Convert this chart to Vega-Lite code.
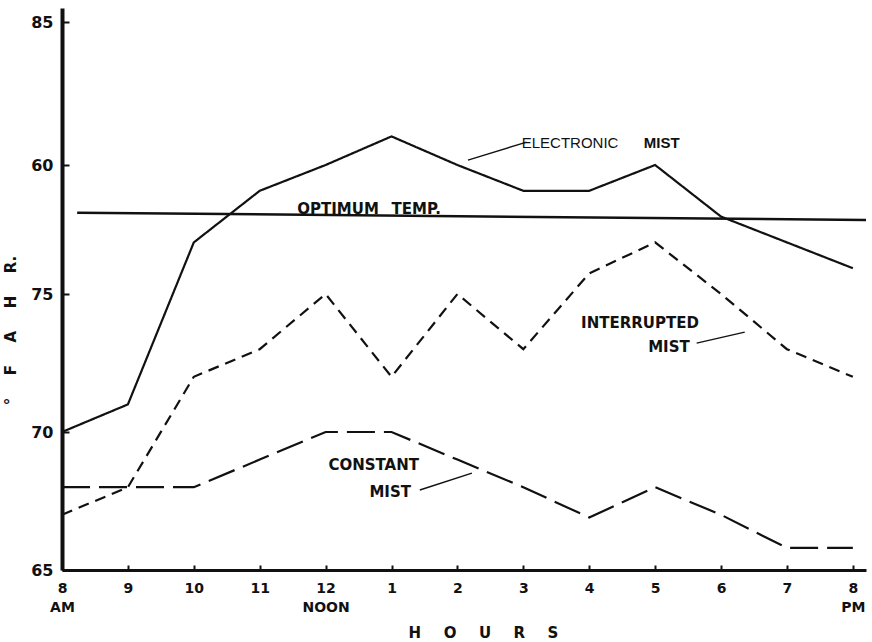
{
  "$schema": "https://vega.github.io/schema/vega-lite/v6.json",
  "width": 804,
  "height": 562,
  "autosize": {"type": "none"},
  "padding": {"left": 62, "top": 8, "right": 6, "bottom": 72},
  "background": "white",
  "config": {"view": {"stroke": null}, "axis": {"grid": false}},
  "datasets": {
    "readings": [
      {"series": "Electronic mist", "hour": 8, "temp": 70},
      {"series": "Electronic mist", "hour": 9, "temp": 71},
      {"series": "Electronic mist", "hour": 10, "temp": 77},
      {"series": "Electronic mist", "hour": 11, "temp": 79},
      {"series": "Electronic mist", "hour": 12, "temp": 80},
      {"series": "Electronic mist", "hour": 13, "temp": 81},
      {"series": "Electronic mist", "hour": 14, "temp": 80},
      {"series": "Electronic mist", "hour": 15, "temp": 79},
      {"series": "Electronic mist", "hour": 16, "temp": 79},
      {"series": "Electronic mist", "hour": 17, "temp": 80},
      {"series": "Electronic mist", "hour": 18, "temp": 78},
      {"series": "Electronic mist", "hour": 19, "temp": 77},
      {"series": "Electronic mist", "hour": 20, "temp": 76},
      {"series": "Interrupted mist", "hour": 8, "temp": 67},
      {"series": "Interrupted mist", "hour": 9, "temp": 68},
      {"series": "Interrupted mist", "hour": 10, "temp": 72},
      {"series": "Interrupted mist", "hour": 11, "temp": 73},
      {"series": "Interrupted mist", "hour": 12, "temp": 75},
      {"series": "Interrupted mist", "hour": 13, "temp": 72},
      {"series": "Interrupted mist", "hour": 14, "temp": 75},
      {"series": "Interrupted mist", "hour": 15, "temp": 73},
      {"series": "Interrupted mist", "hour": 16, "temp": 75.8},
      {"series": "Interrupted mist", "hour": 17, "temp": 77},
      {"series": "Interrupted mist", "hour": 18, "temp": 75},
      {"series": "Interrupted mist", "hour": 19, "temp": 73},
      {"series": "Interrupted mist", "hour": 20, "temp": 72},
      {"series": "Constant mist", "hour": 8, "temp": 68},
      {"series": "Constant mist", "hour": 9, "temp": 68},
      {"series": "Constant mist", "hour": 10, "temp": 68},
      {"series": "Constant mist", "hour": 11, "temp": 69},
      {"series": "Constant mist", "hour": 12, "temp": 70},
      {"series": "Constant mist", "hour": 13, "temp": 70},
      {"series": "Constant mist", "hour": 14, "temp": 69},
      {"series": "Constant mist", "hour": 15, "temp": 68},
      {"series": "Constant mist", "hour": 16, "temp": 66.9},
      {"series": "Constant mist", "hour": 17, "temp": 68},
      {"series": "Constant mist", "hour": 18, "temp": 67},
      {"series": "Constant mist", "hour": 19, "temp": 65.8},
      {"series": "Constant mist", "hour": 20, "temp": 65.8}
    ],
    "optimum": [
      {"hour": 8.23, "temp": 78.15},
      {"hour": 20.2, "temp": 77.87}
    ],
    "pointers": [
      {"hour": 14.16, "temp": 80.17, "hour2": 15.05, "temp2": 80.8},
      {"hour": 17.63, "temp": 73.22, "hour2": 18.36, "temp2": 73.62},
      {"hour": 13.43, "temp": 67.9, "hour2": 14.22, "temp2": 68.51}
    ],
    "notesPlain": [
      {"label": "ELECTRONIC", "hour": 15.71, "temp": 80.77}
    ],
    "notesBold": [
      {"label": "MIST", "hour": 17.1, "temp": 80.77}
    ],
    "notesHeavy": [
      {"label": "OPTIMUM\u2002\u00a0TEMP.", "hour": 12.66, "temp": 78.29},
      {"label": "INTERRUPTED", "hour": 16.77, "temp": 73.95},
      {"label": "MIST", "hour": 17.21, "temp": 73.08},
      {"label": "CONSTANT", "hour": 12.73, "temp": 68.8},
      {"label": "MIST", "hour": 12.98, "temp": 67.83}
    ]
  },
  "encoding": {
    "x": {
      "field": "hour",
      "type": "quantitative",
      "scale": {"domain": [8, 20.2], "nice": false, "zero": false},
      "axis": {
        "values": [8, 9, 10, 11, 12, 13, 14, 15, 16, 17, 18, 19, 20],
        "labelExpr": "datum.value == 8 ? ['8','AM'] : datum.value == 12 ? ['12','NOON'] : datum.value == 20 ? ['8','PM'] : datum.value > 12 ? '' + (datum.value - 12) : '' + datum.value",
        "title": "H\u2003\u2002O\u2003\u2002U\u2003\u2002R\u2003\u2002S",
        "domainColor": "#111",
        "domainWidth": 3,
        "tickColor": "#111",
        "tickWidth": 2,
        "tickSize": -5,
        "labelPadding": 16,
        "labelFont": "DejaVu Sans",
        "labelFontWeight": "bold",
        "labelFontSize": 14,
        "labelColor": "#111",
        "labelLineHeight": 19,
        "labelFlush": false,
        "labelOverlap": false,
        "titleFont": "DejaVu Sans",
        "titleFontWeight": "bold",
        "titleFontSize": 15,
        "titleColor": "#111",
        "titleX": 421,
        "titleY": 62,
        "titleBaseline": "middle",
        "titleAlign": "center"
      }
    },
    "y": {
      "field": "temp",
      "type": "quantitative",
      "scale": {"domain": [65, 70, 75, 80, 85, 85.5], "range": [562, 424, 286, 157, 14, 0], "nice": false, "zero": false},
      "axis": {
        "values": [65, 70, 75, 80, 85],
        "labelExpr": "datum.value == 80 ? '60' : datum.label",
        "title": "°\u2003\u2002F\u2003\u2002A\u2003\u2002H\u2003\u2002R.",
        "domainColor": "#111",
        "domainWidth": 4,
        "tickColor": "#111",
        "tickWidth": 2,
        "tickSize": -7,
        "labelPadding": 16,
        "labelFont": "DejaVu Sans",
        "labelFontWeight": "bold",
        "labelFontSize": 16,
        "labelColor": "#111",
        "labelFlush": false,
        "labelOverlap": false,
        "titleFont": "DejaVu Sans",
        "titleFontWeight": "bold",
        "titleFontSize": 15,
        "titleColor": "#111",
        "titleAngle": -90,
        "titleX": -52,
        "titleY": 322,
        "titleBaseline": "middle",
        "titleAlign": "center"
      }
    }
  },
  "layer": [
    {
      "data": {"name": "readings"},
      "mark": {"type": "line", "color": "#111", "strokeWidth": 2.2, "strokeCap": "butt"},
      "encoding": {
        "strokeDash": {
          "field": "series",
          "type": "nominal",
          "scale": {"domain": ["Electronic mist", "Interrupted mist", "Constant mist"], "range": [[1, 0], [11, 7], [28, 9]]},
          "legend": null
        }
      }
    },
    {
      "data": {"name": "optimum"},
      "mark": {"type": "line", "color": "#111", "strokeWidth": 2.5},
      "encoding": {}
    },
    {
      "data": {"name": "pointers"},
      "mark": {"type": "rule", "color": "#111", "strokeWidth": 1.4},
      "encoding": {
        "x2": {"field": "hour2"},
        "y2": {"field": "temp2"}
      }
    },
    {
      "data": {"name": "notesPlain"},
      "mark": {"type": "text", "font": "Liberation Sans", "fontSize": 15, "fontWeight": "normal", "color": "#111", "align": "center", "baseline": "middle"},
      "encoding": {"text": {"field": "label"}}
    },
    {
      "data": {"name": "notesBold"},
      "mark": {"type": "text", "font": "Liberation Sans", "fontSize": 15, "fontWeight": "bold", "color": "#111", "align": "center", "baseline": "middle"},
      "encoding": {"text": {"field": "label"}}
    },
    {
      "data": {"name": "notesHeavy"},
      "mark": {"type": "text", "font": "DejaVu Sans", "fontSize": 15, "fontWeight": "bold", "color": "#111", "align": "center", "baseline": "middle"},
      "encoding": {"text": {"field": "label"}}
    }
  ]
}
